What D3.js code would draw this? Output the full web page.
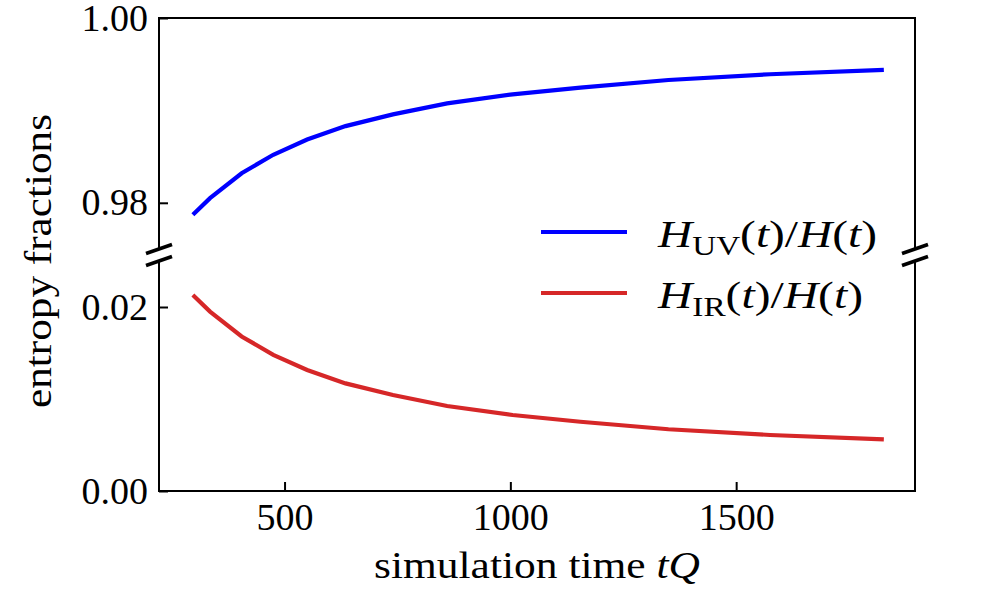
<!DOCTYPE html>
<html>
<head>
<meta charset="utf-8">
<script src="https://cdn.jsdelivr.net/npm/d3@7"></script>
<style>
  body { margin: 0; background: #fff; }
  text { font-family: "Liberation Serif", "Times New Roman", serif; fill: #000; }
</style>
</head>
<body>
<svg id="chart"></svg>
<script>
let svgWidth = 995, svgHeight = 615

// values
let time = [297, 335, 405, 475, 550, 635, 740, 860, 1005, 1155, 1350, 1575, 1827]
let uvFrac = [0.9787, 0.9805, 0.9832, 0.9852, 0.98685, 0.9883, 0.98957, 0.99076, 0.99174, 0.99247, 0.99329, 0.99391, 0.99438]
let irFrac = [0.0213, 0.0195, 0.0168, 0.0148, 0.01315, 0.0117, 0.01043, 0.00924, 0.00826, 0.00753, 0.00671, 0.00609, 0.00562]
let xTicks = [500, 1000, 1500]
let topTicks = [0.98, 1.00]
let bottomTicks = [0.00, 0.02]
let seriesNames = ['UV', 'IR']
let seriesColors = ['#0000ff', '#d62728']

let svg = d3.select('#chart').attr('width', svgWidth).attr('height', svgHeight)

let left = 159, right = 915
let topA = [18, 249], botA = [261, 491]
let fs = 38

let x = d3.scaleLinear().domain([222, 1896]).range([left, right])
let yTop = d3.scaleLinear().domain([0.975, 1.0]).range([topA[1], topA[0]])
let yBot = d3.scaleLinear().domain([0, 0.025]).range([botA[1], botA[0]])

function styleAxis(g){
  g.select('.domain').remove()
  g.selectAll('.tick line').attr('stroke', '#000').attr('stroke-width', 2)
  g.selectAll('.tick text').style('font-size', fs + 'px').attr('fill', '#000')
}

// curves
let line = (ys, vals) => d3.line().x((d, i) => x(time[i])).y(d => ys(d))(vals)
svg.append('path').attr('d', line(yTop, uvFrac))
  .attr('fill', 'none').attr('stroke', seriesColors[0]).attr('stroke-width', 4.2)
svg.append('path').attr('d', line(yBot, irFrac))
  .attr('fill', 'none').attr('stroke', seriesColors[1]).attr('stroke-width', 4.2)

// axes
svg.append('g').attr('transform', `translate(${left},0)`)
  .call(d3.axisLeft(yTop).tickValues(topTicks).tickFormat(d3.format('.2f')).tickSizeInner(-9).tickSizeOuter(0).tickPadding(11))
  .call(styleAxis)
svg.append('g').attr('transform', `translate(${left},0)`)
  .call(d3.axisLeft(yBot).tickValues(bottomTicks).tickFormat(d3.format('.2f')).tickSizeInner(-9).tickSizeOuter(0).tickPadding(11))
  .call(styleAxis)
svg.append('g').attr('transform', `translate(0,${botA[1]})`)
  .call(d3.axisBottom(x).tickValues(xTicks).tickFormat(d3.format('d')).tickSizeInner(-9).tickSizeOuter(0).tickPadding(12))
  .call(styleAxis)

// spines
let spines = svg.append('g').attr('stroke', '#000').attr('stroke-width', 2).attr('fill', 'none')
spines.append('path').attr('d', `M${left},${topA[1]}V${topA[0]}H${right}V${topA[1]}`).attr('stroke-linecap', 'square')
spines.append('path').attr('d', `M${left},${botA[0]}V${botA[1]}H${right}V${botA[0]}`).attr('stroke-linecap', 'square')

// break marks
let breaks = svg.append('g').attr('stroke', '#000').attr('stroke-width', 3.5)
;[left, right].forEach(cx => {
  ;[topA[1], botA[0]].forEach(cy => {
    breaks.append('line')
      .attr('x1', cx - 13).attr('y1', cy + 4.5)
      .attr('x2', cx + 13).attr('y2', cy - 4.5)
  })
})

// axis labels (stretched a little to the width of the original serif face)
let xl = svg.append('text').attr('x', (left + right) / 2).attr('y', 578)
  .attr('text-anchor', 'middle').style('font-size', fs + 'px')
  .attr('textLength', 326).attr('lengthAdjust', 'spacingAndGlyphs')
xl.append('tspan').text('simulation time ')
xl.append('tspan').attr('font-style', 'italic').text('tQ')

svg.append('text')
  .attr('transform', 'translate(51,261) rotate(-90)')
  .attr('text-anchor', 'middle').style('font-size', fs + 'px')
  .attr('textLength', 294).attr('lengthAdjust', 'spacingAndGlyphs')
  .text('entropy fractions')

// legend
let legendWidths = [219, 205]
let legend = svg.append('g')
seriesNames.forEach((name, i) => {
  let ly = 232 + i * 61
  legend.append('line').attr('x1', 541).attr('x2', 627).attr('y1', ly).attr('y2', ly)
    .attr('stroke', seriesColors[i]).attr('stroke-width', 4.2)
  let t = legend.append('text').attr('x', 658).attr('y', ly + 15).style('font-size', fs + 'px')
    .attr('textLength', legendWidths[i]).attr('lengthAdjust', 'spacingAndGlyphs')
  t.append('tspan').attr('font-style', 'italic').text('H')
  t.append('tspan').attr('dy', 8).style('font-size', (fs * 0.7) + 'px').text(name)
  t.append('tspan').attr('dy', -8).text('(')
  t.append('tspan').attr('font-style', 'italic').text('t')
  t.append('tspan').text(')/')
  t.append('tspan').attr('font-style', 'italic').text('H')
  t.append('tspan').text('(')
  t.append('tspan').attr('font-style', 'italic').text('t')
  t.append('tspan').text(')')
})
</script>
</body>
</html>
